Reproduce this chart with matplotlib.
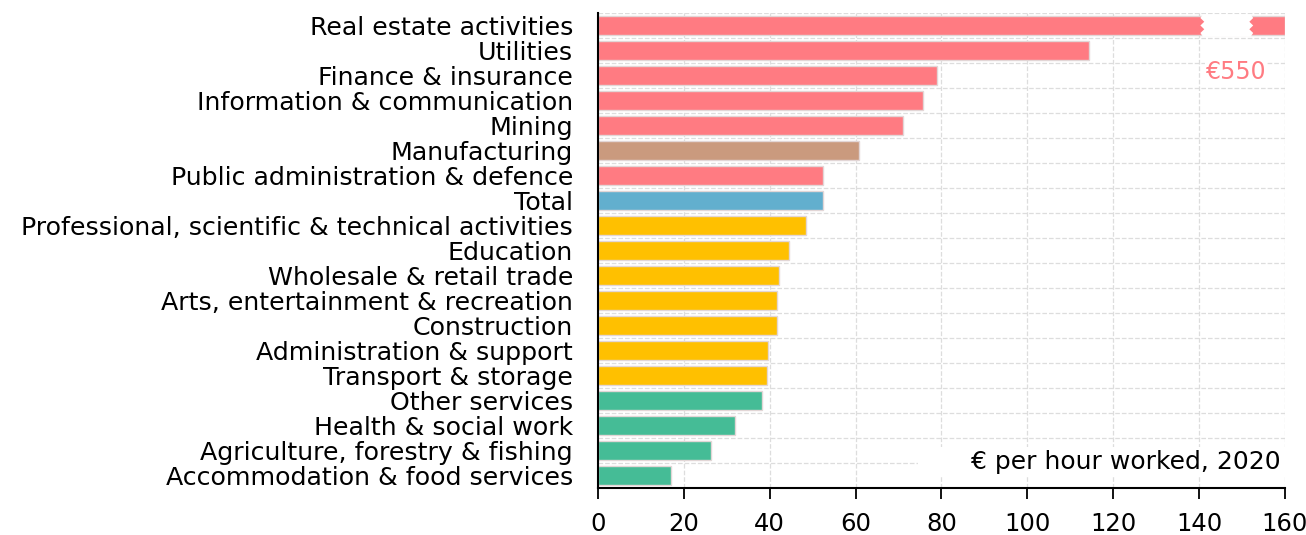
import matplotlib.pyplot as plt
from matplotlib.patches import Polygon, Rectangle
import numpy as np

plt.rcParams['font.family'] = ['DejaVu Sans']

categories = ["Real estate activities", "Utilities", "Finance & insurance",
              "Information & communication", "Mining", "Manufacturing",
              "Public administration & defence", "Total",
              "Professional, scientific & technical activities", "Education",
              "Wholesale & retail trade", "Arts, entertainment & recreation",
              "Construction", "Administration & support", "Transport & storage",
              "Other services", "Health & social work",
              "Agriculture, forestry & fishing", "Accommodation & food services"]
values = [550, 114.3, 79.0, 75.7, 71.0, 60.8, 52.4, 52.3, 48.4, 44.5,
          42.2, 41.7, 41.7, 39.6, 39.4, 38.2, 31.9, 26.3, 16.9]
groups = ["high", "high", "high", "high", "high", "manuf", "high", "total",
          "mid", "mid", "mid", "mid", "mid", "mid", "mid",
          "low", "low", "low", "low"]
group_colors = {"high": "#FF7B82", "manuf": "#CA9A7E", "total": "#62AFCE",
                "mid": "#FFC000", "low": "#45BC96"}

XMAX = 160
brk_lo, brk_hi = 140.3, 152.6

fig = plt.figure(figsize=(13.06, 5.35), dpi=100)
ax = fig.add_axes([0.4579, 0.0879, 0.5260, 0.8878])

y = np.arange(len(categories))
shown = [min(v, XMAX) for v in values]
cols = [group_colors[g] for g in groups]
h = 0.78
ax.barh(y, shown, height=h, color=cols, edgecolor="#e2d6d6", linewidth=1.0, zorder=3)

# broken bar marker for the off-scale value
top, bot = -h / 2 - 0.06, h / 2 + 0.06
zz = np.linspace(top, bot, 7)
off = np.array([0.6, 0, 0.9, 0, 0.9, 0, 0.6])
left_edge = [(brk_lo + o, yy) for o, yy in zip(off, zz)]
right_edge = [(brk_hi - o, yy) for o, yy in zip(off, zz)][::-1]
ax.add_patch(Polygon(left_edge + right_edge, closed=True, facecolor="white",
                     edgecolor="none", zorder=4))
ax.text(148.6, 1.85, "€" + str(values[0]), color=group_colors["high"],
        fontsize=17, ha="center", va="center", zorder=5,
        bbox=dict(facecolor="white", edgecolor="none", pad=0.5))

ax.set_xlim(0, XMAX)
ax.set_ylim(len(categories) - 0.5, -0.5)
ax.set_yticks(y)
ax.set_yticklabels(categories, fontsize=18.2)
ax.tick_params(axis="y", length=0, pad=18)
ax.set_xticks(np.arange(0, XMAX + 1, 20))
ax.tick_params(axis="x", length=8, width=1.3, labelsize=17.5, pad=9)
ax.set_yticks(np.arange(-0.5, len(categories), 1), minor=True)
ax.tick_params(axis="y", which="minor", length=0)

ax.grid(True, axis="x", which="major", color="#dddddd", linestyle="--", linewidth=0.9, zorder=0)
ax.grid(True, axis="y", which="minor", color="#dddddd", linestyle="--", linewidth=0.9, zorder=0)
ax.grid(False, axis="y", which="major")

for s in ["top", "right"]:
    ax.spines[s].set_visible(False)
for s in ["left", "bottom"]:
    ax.spines[s].set_linewidth(1.5)
    ax.spines[s].set_zorder(6)

ax.add_patch(Rectangle((0.466, 0.023), 0.534, 0.063, transform=ax.transAxes,
                       facecolor="white", edgecolor="none", zorder=2))
ax.text(0.993, 0.054, "€ per hour worked, 2020", transform=ax.transAxes,
        ha="right", va="center", fontsize=18, zorder=5)

fig.savefig("out.png", dpi=100)
